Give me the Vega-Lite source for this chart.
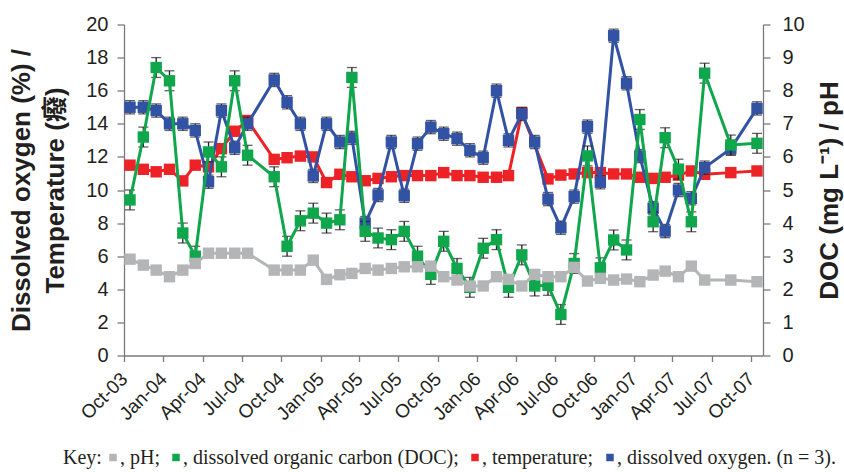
{
  "$schema": "https://vega.github.io/schema/vega-lite/v6.json",
  "width": 639,
  "height": 331,
  "autosize": {"type": "none"},
  "padding": {"left": 124, "top": 24.5, "right": 81, "bottom": 116.5},
  "background": "white",
  "data": {
    "values": [
      {"date": "2003-10-15", "DO": 15.0, "T": 11.5, "DOC": 4.7, "pH": 2.91, "eDO": 0.4, "eT": 0.15, "eDOC": 0.3, "epH": 0.05},
      {"date": "2003-11-15", "DO": 15.0, "T": 11.25, "DOC": 6.6, "pH": 2.73, "eDO": 0.4, "eT": 0.15, "eDOC": 0.3, "epH": 0.05},
      {"date": "2003-12-15", "DO": 14.8, "T": 11.1, "DOC": 8.7, "pH": 2.58, "eDO": 0.4, "eT": 0.15, "eDOC": 0.3, "epH": 0.05},
      {"date": "2004-01-15", "DO": 14.0, "T": 11.25, "DOC": 8.3, "pH": 2.38, "eDO": 0.4, "eT": 0.15, "eDOC": 0.3, "epH": 0.05},
      {"date": "2004-02-15", "DO": 14.0, "T": 10.55, "DOC": 3.7, "pH": 2.58, "eDO": 0.4, "eT": 0.15, "eDOC": 0.3, "epH": 0.05},
      {"date": "2004-03-15", "DO": 13.6, "T": 11.5, "DOC": 3.0, "pH": 2.78, "eDO": 0.4, "eT": 0.15, "eDOC": 0.3, "epH": 0.05},
      {"date": "2004-04-15", "DO": 10.5, "T": 11.4, "DOC": 6.15, "pH": 3.09, "eDO": 0.4, "eT": 0.15, "eDOC": 0.3, "epH": 0.05},
      {"date": "2004-05-15", "DO": 14.8, "T": 12.5, "DOC": 5.7, "pH": 3.09, "eDO": 0.4, "eT": 0.15, "eDOC": 0.3, "epH": 0.05},
      {"date": "2004-06-15", "DO": 12.55, "T": 13.55, "DOC": 8.3, "pH": 3.09, "eDO": 0.4, "eT": 0.15, "eDOC": 0.3, "epH": 0.05},
      {"date": "2004-07-15", "DO": 14.0, "T": 14.2, "DOC": 6.05, "pH": 3.09, "eDO": 0.4, "eT": 0.15, "eDOC": 0.3, "epH": 0.05},
      {"date": "2004-09-15", "DO": 16.65, "T": 11.85, "DOC": 5.4, "pH": 2.58, "eDO": 0.4, "eT": 0.15, "eDOC": 0.3, "epH": 0.05},
      {"date": "2004-10-15", "DO": 15.3, "T": 11.95, "DOC": 3.3, "pH": 2.58, "eDO": 0.4, "eT": 0.15, "eDOC": 0.3, "epH": 0.05},
      {"date": "2004-11-15", "DO": 14.0, "T": 12.05, "DOC": 4.07, "pH": 2.58, "eDO": 0.4, "eT": 0.15, "eDOC": 0.3, "epH": 0.05},
      {"date": "2004-12-15", "DO": 10.85, "T": 12.0, "DOC": 4.3, "pH": 2.88, "eDO": 0.4, "eT": 0.15, "eDOC": 0.3, "epH": 0.05},
      {"date": "2005-01-15", "DO": 14.0, "T": 10.45, "DOC": 4.0, "pH": 2.3, "eDO": 0.4, "eT": 0.15, "eDOC": 0.3, "epH": 0.05},
      {"date": "2005-02-15", "DO": 12.9, "T": 10.95, "DOC": 4.1, "pH": 2.44, "eDO": 0.4, "eT": 0.15, "eDOC": 0.3, "epH": 0.05},
      {"date": "2005-03-15", "DO": 13.15, "T": 10.8, "DOC": 8.4, "pH": 2.48, "eDO": 0.4, "eT": 0.15, "eDOC": 0.3, "epH": 0.05},
      {"date": "2005-04-15", "DO": 8.0, "T": 10.56, "DOC": 3.75, "pH": 2.63, "eDO": 0.4, "eT": 0.15, "eDOC": 0.3, "epH": 0.05},
      {"date": "2005-05-15", "DO": 9.7, "T": 10.7, "DOC": 3.55, "pH": 2.58, "eDO": 0.4, "eT": 0.15, "eDOC": 0.3, "epH": 0.05},
      {"date": "2005-06-15", "DO": 12.9, "T": 10.8, "DOC": 3.5, "pH": 2.63, "eDO": 0.4, "eT": 0.15, "eDOC": 0.3, "epH": 0.05},
      {"date": "2005-07-15", "DO": 9.65, "T": 10.87, "DOC": 3.75, "pH": 2.68, "eDO": 0.4, "eT": 0.15, "eDOC": 0.3, "epH": 0.05},
      {"date": "2005-08-15", "DO": 12.8, "T": 10.87, "DOC": 3.0, "pH": 2.68, "eDO": 0.4, "eT": 0.15, "eDOC": 0.3, "epH": 0.05},
      {"date": "2005-09-15", "DO": 13.8, "T": 10.87, "DOC": 2.45, "pH": 2.7, "eDO": 0.4, "eT": 0.15, "eDOC": 0.3, "epH": 0.05},
      {"date": "2005-10-15", "DO": 13.4, "T": 11.05, "DOC": 3.45, "pH": 2.38, "eDO": 0.4, "eT": 0.15, "eDOC": 0.3, "epH": 0.05},
      {"date": "2005-11-15", "DO": 13.1, "T": 10.87, "DOC": 2.63, "pH": 2.28, "eDO": 0.4, "eT": 0.15, "eDOC": 0.3, "epH": 0.05},
      {"date": "2005-12-15", "DO": 12.4, "T": 10.87, "DOC": 2.06, "pH": 2.1, "eDO": 0.4, "eT": 0.15, "eDOC": 0.3, "epH": 0.05},
      {"date": "2006-01-15", "DO": 11.95, "T": 10.77, "DOC": 3.24, "pH": 2.1, "eDO": 0.4, "eT": 0.15, "eDOC": 0.3, "epH": 0.05},
      {"date": "2006-02-15", "DO": 16.0, "T": 10.77, "DOC": 3.5, "pH": 2.38, "eDO": 0.4, "eT": 0.15, "eDOC": 0.3, "epH": 0.05},
      {"date": "2006-03-15", "DO": 13.0, "T": 10.87, "DOC": 2.06, "pH": 2.3, "eDO": 0.4, "eT": 0.15, "eDOC": 0.3, "epH": 0.05},
      {"date": "2006-04-15", "DO": 14.6, "T": 14.67, "DOC": 3.04, "pH": 2.1, "eDO": 0.4, "eT": 0.15, "eDOC": 0.3, "epH": 0.05},
      {"date": "2006-05-15", "DO": 12.9, "T": null, "DOC": 2.1, "pH": 2.45, "eDO": 0.4, "eT": null, "eDOC": 0.3, "epH": 0.05},
      {"date": "2006-06-15", "DO": 9.45, "T": 10.67, "DOC": 2.12, "pH": 2.38, "eDO": 0.4, "eT": 0.15, "eDOC": 0.3, "epH": 0.05},
      {"date": "2006-07-15", "DO": 7.72, "T": 10.9, "DOC": 1.24, "pH": 2.38, "eDO": 0.4, "eT": 0.15, "eDOC": 0.3, "epH": 0.05},
      {"date": "2006-08-15", "DO": 9.6, "T": 10.97, "DOC": 2.78, "pH": 2.66, "eDO": 0.4, "eT": 0.15, "eDOC": 0.3, "epH": 0.05},
      {"date": "2006-09-15", "DO": 13.83, "T": 11.05, "DOC": 6.03, "pH": 2.25, "eDO": 0.4, "eT": 0.15, "eDOC": 0.3, "epH": 0.05},
      {"date": "2006-10-15", "DO": 10.47, "T": 11.05, "DOC": 2.65, "pH": 2.33, "eDO": 0.4, "eT": 0.15, "eDOC": 0.3, "epH": 0.05},
      {"date": "2006-11-15", "DO": 19.32, "T": 10.97, "DOC": 3.49, "pH": 2.28, "eDO": 0.4, "eT": 0.15, "eDOC": 0.3, "epH": 0.05},
      {"date": "2006-12-15", "DO": 16.45, "T": 10.97, "DOC": 3.19, "pH": 2.31, "eDO": 0.4, "eT": 0.15, "eDOC": 0.3, "epH": 0.05},
      {"date": "2007-01-15", "DO": 12.05, "T": 10.77, "DOC": 7.13, "pH": 2.23, "eDO": 0.4, "eT": 0.15, "eDOC": 0.3, "epH": 0.05},
      {"date": "2007-02-15", "DO": 8.9, "T": 10.7, "DOC": 4.04, "pH": 2.43, "eDO": 0.4, "eT": 0.15, "eDOC": 0.3, "epH": 0.05},
      {"date": "2007-03-15", "DO": 7.52, "T": 10.77, "DOC": 6.58, "pH": 2.55, "eDO": 0.4, "eT": 0.15, "eDOC": 0.3, "epH": 0.05},
      {"date": "2007-04-15", "DO": 10.0, "T": 10.9, "DOC": 5.63, "pH": 2.38, "eDO": 0.4, "eT": 0.15, "eDOC": 0.3, "epH": 0.05},
      {"date": "2007-05-15", "DO": 9.5, "T": 11.15, "DOC": 4.04, "pH": 2.7, "eDO": 0.4, "eT": 0.15, "eDOC": 0.3, "epH": 0.05},
      {"date": "2007-06-15", "DO": 11.35, "T": 10.95, "DOC": 8.53, "pH": 2.28, "eDO": 0.4, "eT": 0.15, "eDOC": 0.3, "epH": 0.05},
      {"date": "2007-08-15", "DO": 12.5, "T": 11.05, "DOC": 6.36, "pH": 2.28, "eDO": 0.4, "eT": 0.15, "eDOC": 0.3, "epH": 0.05},
      {"date": "2007-10-15", "DO": 14.93, "T": 11.15, "DOC": 6.41, "pH": 2.23, "eDO": 0.4, "eT": 0.15, "eDOC": 0.3, "epH": 0.05}
    ]
  },
  "layer": [
    {
      "transform": [{"fold": ["T", "DO"], "as": ["series", "value"]}],
      "encoding": {
        "x": {
          "field": "date",
          "type": "temporal",
          "scale": {
            "type": "utc",
            "domain": [
              {"year": 2003, "month": 10, "date": 1, "utc": true},
              {"year": 2007, "month": 10, "date": 29, "utc": true}
            ]
          },
          "axis": {
            "title": null,
            "format": "%b-%y",
            "tickCount": {"interval": "month", "step": 3},
            "labelAngle": -45,
            "labelAlign": "right",
            "labelBaseline": "middle",
            "labelFontSize": 19,
            "labelOverlap": false,
            "labelFlush": false,
            "tickSize": 6,
            "labelPadding": 14
          }
        },
        "y": {
          "field": "value",
          "type": "quantitative",
          "scale": {"domain": [0, 20], "nice": false},
          "axis": {
            "orient": "left",
            "title": ["Dissolved oxygen (%) /", "Temperature (癈)"],
            "values": [0, 2, 4, 6, 8, 10, 12, 14, 16, 18, 20],
            "tickSize": 7,
            "labelPadding": 9,
            "labelFontSize": 20,
            "titleFontSize": 26,
            "titleFontWeight": "bold",
            "titleLineHeight": 34,
            "titlePadding": 17
          }
        }
      },
      "layer": [
        {
          "transform": [{"filter": "datum.series === 'T' && isValid(datum.value)"}],
          "layer": [
            {"mark": {"type": "errorbar", "color": "#231f20", "thickness": 1.3, "ticks": {"size": 10}}, "encoding": {"yError": {"field": "eT"}}},
            {"mark": {"type": "line", "color": "#ed2227", "strokeWidth": 3}},
            {
              "mark": {"type": "point", "shape": "square", "filled": true, "size": 130, "opacity": 1},
              "encoding": {
                "color": {
                  "field": "series",
                  "type": "nominal",
                  "scale": {"domain": ["pH", "DOC", "T", "DO"], "range": ["#b4b5b7", "#10a64c", "#ed2227", "#3252a4"]},
                  "legend": {
                    "orient": "none",
                    "legendX": -61,
                    "legendY": 423,
                    "direction": "horizontal",
                    "title": "Key:",
                    "titleOrient": "left",
                    "titleFont": "Liberation Serif",
                    "titleFontSize": 20,
                    "titleFontWeight": "normal",
                    "titleColor": "#231f20",
                    "titlePadding": 1,
                    "labelFont": "Liberation Serif",
                    "labelFontSize": 20,
                    "labelColor": "#231f20",
                    "labelLimit": 600,
                    "labelOffset": -3,
                    "columnPadding": 6,
                    "symbolType": "square",
                    "symbolSize": 56,
                    "symbolStrokeWidth": 0,
                    "labelExpr": "datum.label === 'pH' ? ', pH;' : datum.label === 'DOC' ? ', dissolved organic carbon (DOC);' : datum.label === 'T' ? ', temperature;' : ', dissolved oxygen. (n = 3).'"
                  }
                }
              }
            }
          ]
        },
        {
          "transform": [{"filter": "datum.series === 'DO' && isValid(datum.value)"}],
          "layer": [
            {"mark": {"type": "errorbar", "color": "#231f20", "thickness": 1.3, "ticks": {"size": 10}}, "encoding": {"yError": {"field": "eDO"}}},
            {"mark": {"type": "line", "color": "#3252a4", "strokeWidth": 3}},
            {
              "mark": {"type": "point", "shape": "square", "filled": true, "size": 130, "opacity": 1},
              "encoding": {"color": {"field": "series", "type": "nominal", "scale": {"domain": ["pH", "DOC", "T", "DO"], "range": ["#b4b5b7", "#10a64c", "#ed2227", "#3252a4"]}}}
            }
          ]
        }
      ]
    },
    {
      "transform": [{"fold": ["DOC", "pH"], "as": ["series", "value"]}],
      "encoding": {
        "x": {
          "field": "date",
          "type": "temporal",
          "scale": {
            "type": "utc",
            "domain": [
              {"year": 2003, "month": 10, "date": 1, "utc": true},
              {"year": 2007, "month": 10, "date": 29, "utc": true}
            ]
          },
          "axis": {
            "title": null,
            "format": "%b-%y",
            "tickCount": {"interval": "month", "step": 3},
            "labelAngle": -45,
            "labelAlign": "right",
            "labelBaseline": "middle",
            "labelFontSize": 19,
            "labelOverlap": false,
            "labelFlush": false,
            "tickSize": 6,
            "labelPadding": 14
          }
        },
        "y": {
          "field": "value",
          "type": "quantitative",
          "scale": {"domain": [0, 10], "nice": false},
          "axis": {
            "orient": "right",
            "title": "DOC (mg L⁻¹) / pH",
            "values": [0, 1, 2, 3, 4, 5, 6, 7, 8, 9, 10],
            "tickSize": 7,
            "labelPadding": 12,
            "labelFontSize": 20,
            "titleFontSize": 26,
            "titleFontWeight": "bold",
            "titleAngle": 270,
            "titlePadding": 38
          }
        }
      },
      "layer": [
        {
          "transform": [{"filter": "datum.series === 'DOC' && isValid(datum.value)"}],
          "layer": [
            {"mark": {"type": "errorbar", "color": "#231f20", "thickness": 1.3, "ticks": {"size": 10}}, "encoding": {"yError": {"field": "eDOC"}}},
            {"mark": {"type": "line", "color": "#10a64c", "strokeWidth": 3}},
            {
              "mark": {"type": "point", "shape": "square", "filled": true, "size": 130, "opacity": 1},
              "encoding": {"color": {"field": "series", "type": "nominal", "scale": {"domain": ["pH", "DOC", "T", "DO"], "range": ["#b4b5b7", "#10a64c", "#ed2227", "#3252a4"]}}}
            }
          ]
        },
        {
          "transform": [{"filter": "datum.series === 'pH' && isValid(datum.value)"}],
          "layer": [
            {"mark": {"type": "errorbar", "color": "#231f20", "thickness": 1.3, "ticks": {"size": 10}}, "encoding": {"yError": {"field": "epH"}}},
            {"mark": {"type": "line", "color": "#b4b5b7", "strokeWidth": 3}},
            {
              "mark": {"type": "point", "shape": "square", "filled": true, "size": 130, "opacity": 1},
              "encoding": {"color": {"field": "series", "type": "nominal", "scale": {"domain": ["pH", "DOC", "T", "DO"], "range": ["#b4b5b7", "#10a64c", "#ed2227", "#3252a4"]}}}
            }
          ]
        }
      ]
    }
  ],
  "resolve": {"scale": {"y": "independent"}},
  "config": {
    "view": {"stroke": null},
    "axis": {
      "grid": false,
      "domainColor": "#7a7a7a",
      "tickColor": "#7a7a7a",
      "domainWidth": 1.3,
      "tickWidth": 1.3,
      "labelColor": "#231f20",
      "titleColor": "#231f20",
      "labelFont": "Liberation Sans",
      "titleFont": "Liberation Sans, Noto Sans CJK SC"
    }
  }
}
